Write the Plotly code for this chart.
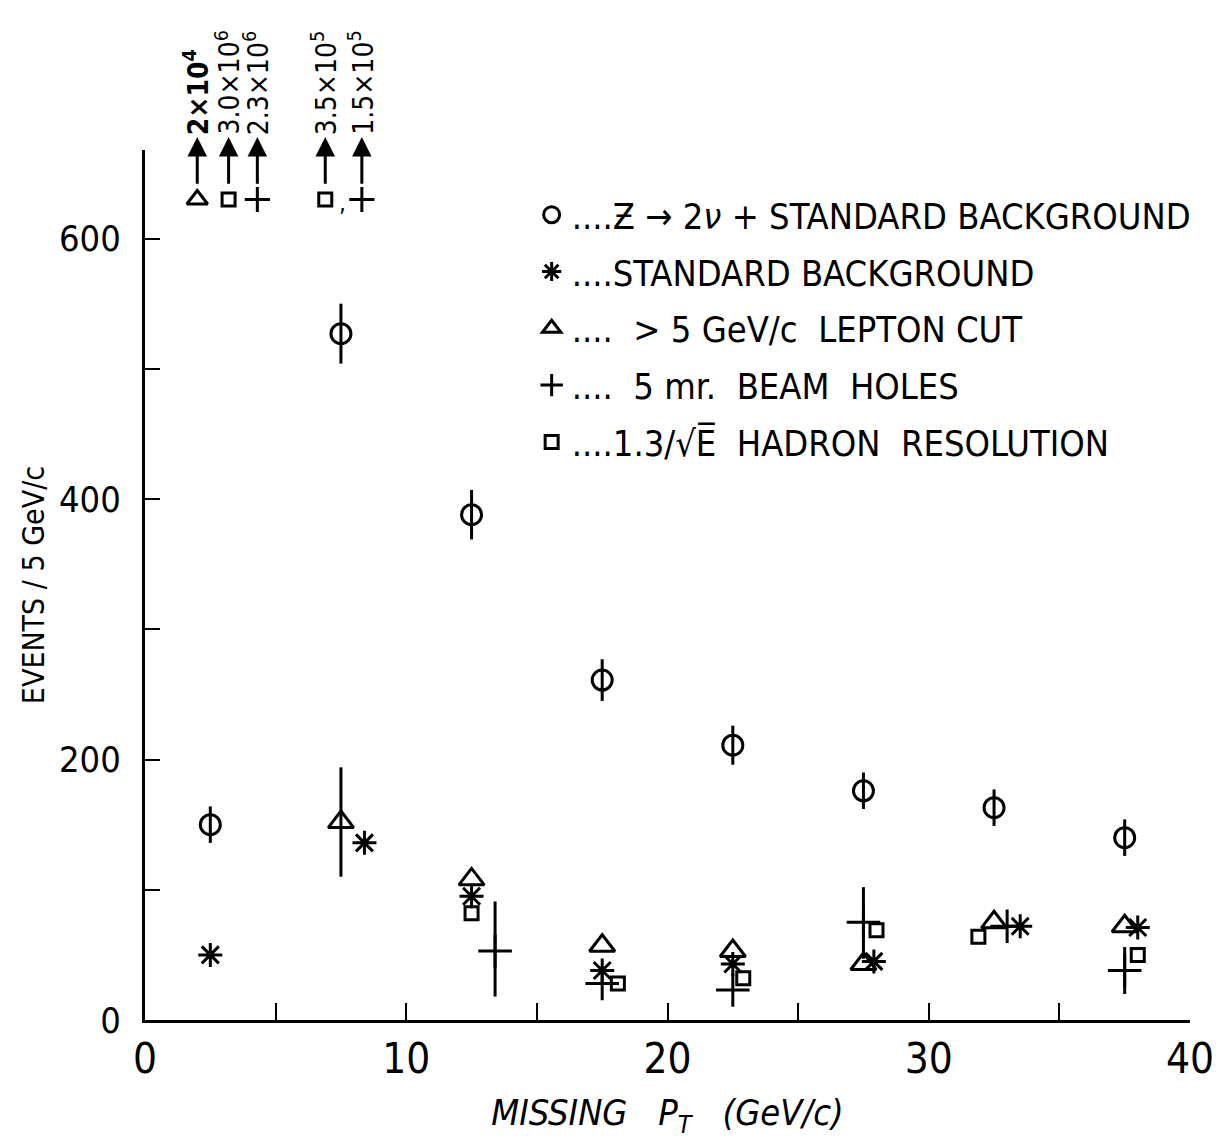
import plotly.graph_objects as go

# Missing-pT spectra, events per 5 GeV/c bin
pt_signal = [2.5, 7.5, 12.5, 17.5, 22.5, 27.5, 32.5, 37.5]
n_signal = [150, 527, 388, 261, 211, 176, 163, 140]
err_signal = [14, 23, 19, 16, 15, 14, 14, 14]

pt_std = [2.5, 8.4, 12.5, 17.5, 22.5, 27.9, 33.5, 38.0]
n_std = [50, 136, 95, 38, 43, 45, 72, 71]

pt_lepton = [7.5, 12.5, 17.5, 22.5, 27.5, 32.5, 37.5]
n_lepton = [152, 108, 57, 53, 43, 75, 72]
err_lepton = [42, 0, 0, 0, 0, 0, 0]

pt_beam = [13.4, 17.5, 22.5, 27.5, 33.0, 37.5]
n_beam = [53, 28, 23, 75, 72, 38]
err_beam_up = [38, 0, 0, 27, 0, 18]
err_beam_dn = [35, 0, 0, 28, 0, 18]

pt_hadron = [12.5, 18.1, 22.9, 28.0, 31.9, 38.0]
n_hadron = [82, 28, 32, 69, 64, 50]

# Off-scale values in the first two bins
off_x = [2.0, 3.2, 4.3, 6.9, 8.3]
off_symbols = ["triangle-up-open", "square-open", "cross-thin-open", "square-open", "cross-thin-open"]
off_sizes = [18, 13, 18, 13, 18]
off_labels = ["<b>2×10<sup>4</sup></b>", "3.0×10<sup>6</sup>", "2.3×10<sup>6</sup>",
              "3.5×10<sup>5</sup>", "1.5×10<sup>5</sup>"]
off_y = 630

series_names = [
    "....Ƶ → 2<i>ν</i> + STANDARD BACKGROUND",
    "....STANDARD BACKGROUND",
    "....  > 5 GeV/c  LEPTON CUT",
    "....  5 mr.  BEAM  HOLES",
    "....1.3/√E̅  HADRON  RESOLUTION",
]

FONT = "DejaVu Sans Condensed, Liberation Sans Narrow, DejaVu Sans, sans-serif"
INK = "black"

fig = go.Figure()

fig.add_trace(go.Scatter(
    x=pt_signal, y=n_signal, mode="markers", name=series_names[0], legendgroup="a",
    marker=dict(symbol="circle-open", size=20, color=INK, line=dict(width=3, color=INK)),
    error_y=dict(type="data", array=err_signal, width=0, thickness=3, color=INK),
))
fig.add_trace(go.Scatter(
    x=pt_std, y=n_std, mode="markers", name=series_names[1], legendgroup="b",
    marker=dict(symbol="asterisk-open", size=20, color=INK, line=dict(width=3, color=INK)),
))
fig.add_trace(go.Scatter(
    x=pt_lepton, y=n_lepton, mode="markers", name=series_names[2], legendgroup="c",
    marker=dict(symbol="triangle-up-open", size=22, color=INK, line=dict(width=3, color=INK)),
    error_y=dict(type="data", array=err_lepton, width=0, thickness=3, color=INK),
))
fig.add_trace(go.Scatter(
    x=pt_beam, y=n_beam, mode="markers", name=series_names[3], legendgroup="d",
    marker=dict(symbol="cross-thin-open", size=24, color=INK, line=dict(width=3, color=INK)),
    error_y=dict(type="data", symmetric=False, array=err_beam_up, arrayminus=err_beam_dn,
                 width=0, thickness=3, color=INK),
))
fig.add_trace(go.Scatter(
    x=pt_hadron, y=n_hadron, mode="markers", name=series_names[4], legendgroup="e",
    marker=dict(symbol="square-open", size=13, color=INK, line=dict(width=3, color=INK)),
))

# Off-scale markers above the plot with arrows and values
fig.add_trace(go.Scatter(
    x=off_x, y=[off_y] * len(off_x), mode="markers", showlegend=False, cliponaxis=False,
    hoverinfo="skip",
    marker=dict(symbol=off_symbols, size=off_sizes, color=INK, opacity=1,
                line=dict(width=3, color=INK)),
))
for xv, lab in zip(off_x, off_labels):
    fig.add_annotation(x=xv, y=678, ax=xv, ay=641, xref="x", yref="y", axref="x", ayref="y",
                       text="", showarrow=True, arrowhead=2, arrowsize=1.3, arrowwidth=3,
                       arrowcolor=INK)
    fig.add_annotation(x=xv, y=1.015, xref="x", yref="paper", text=lab, showarrow=False,
                       textangle=-90, xanchor="center", yanchor="bottom",
                       font=dict(family=FONT, size=28, color=INK))
fig.add_annotation(x=7.55, y=627, xref="x", yref="y", text=",", showarrow=False,
                   font=dict(family=FONT, size=24, color=INK))

fig.update_layout(
    width=1226, height=1139,
    margin=dict(l=145, r=26, t=150, b=112),
    paper_bgcolor="white", plot_bgcolor="white",
    font=dict(family=FONT, color=INK),
    showlegend=True,
    legend=dict(x=0.37, y=0.96, xanchor="left", yanchor="top",
                font=dict(family=FONT, size=36, color=INK),
                tracegroupgap=7, itemwidth=30, bgcolor="rgba(0,0,0,0)"),
    xaxis=dict(range=[0, 40], showgrid=False, zeroline=False, showline=True,
               linecolor=INK, linewidth=3, ticks="inside", ticklen=17, tickwidth=2,
               tickcolor=INK, dtick=10, tick0=0,
               minor=dict(dtick=5, ticks="inside", ticklen=17, tickwidth=2, tickcolor=INK),
               tickfont=dict(family=FONT, size=42, color=INK),
               title=dict(text="<i>MISSING   P<sub>T</sub>   (GeV/c)</i>",
                          font=dict(family=FONT, size=36, color=INK), standoff=18)),
    yaxis=dict(range=[0, 668], showgrid=False, zeroline=False, showline=True,
               linecolor=INK, linewidth=3, ticks="inside", ticklen=15, tickwidth=2,
               tickcolor=INK, dtick=200, tick0=0,
               minor=dict(dtick=100, ticks="inside", ticklen=15, tickwidth=2, tickcolor=INK),
               tickfont=dict(family=FONT, size=36, color=INK), ticklabelstandoff=14,
               title=dict(text="EVENTS / 5 GeV/c",
                          font=dict(family=FONT, size=30, color=INK), standoff=6)),
)

fig.write_html("out.html")
